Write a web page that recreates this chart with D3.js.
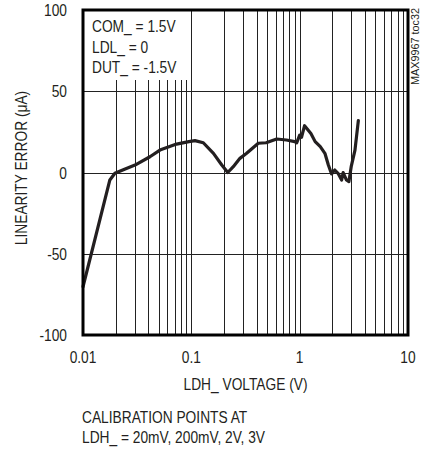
<!DOCTYPE html>
<html><head><meta charset="utf-8">
<script src="https://cdn.jsdelivr.net/npm/d3@7"></script>
<style>
body{margin:0;background:#fff;}
text{font-family:"Liberation Sans",Arial,sans-serif;fill:#231f20;}
</style></head><body>
<svg id="c" width="421" height="453"></svg>
<script>
const voltage = [0.01,0.0177,0.0197,0.0245,0.0302,0.0415,0.0513,0.0731,0.095,0.108,0.129,0.16,0.191,0.217,0.244,0.281,0.324,0.415,0.49,0.614,0.755,0.9,0.94,1.0,1.04,1.11,1.27,1.39,1.55,1.71,1.84,1.97,2.11,2.26,2.44,2.52,2.7,2.85,2.99,3.24,3.48,3.68];
const errorUA = [-70.3,-4.6,-0.5,2.2,4.6,9.7,13.8,17.5,19.0,19.6,18.3,11.8,4.6,0,3.6,8.7,11.8,18,18.3,20.6,20,19,18.3,23,21.7,28.8,24,19,15.9,11.8,4.6,-0.9,1.5,-0.5,-4.6,-0.1,-4.6,-5.6,3.6,13.8,31.9];
const xTicks = [0.01,0.1,1,10];
const xTickLabels = ["0.01","0.1","1","10"];
const yTicks = [-100,-50,0,50,100];
const yTickLabels = ["-100","-50","0","50","100"];
const legendLines = ["COM_ = 1.5V","LDL_ = 0","DUT_ = -1.5V"];
const xTitle = "LDH_ VOLTAGE (V)";
const yTitle = "LINEARITY ERROR (\u03bcA)";
const noteLines = ["CALIBRATION POINTS AT","LDH_ = 20mV, 200mV, 2V, 3V"];
const sideNote = "MAX9967 toc32";

const L=83,T=10,R=408,B=335, SX=0.86;
const svg=d3.select("#c");
const x=d3.scaleLog().domain([0.01,10]).range([L,R]);
const y=d3.scaleLinear().domain([-100,100]).range([B,T]);

function label(px,py,str,opts={}){
  const g=svg.append("g").attr("transform",`translate(${px},${py})${opts.rot?` rotate(${opts.rot})`:""} scale(${opts.sx||SX},1)`);
  return g.append("text").attr("x",0).attr("y",0).attr("font-size",opts.fs||16)
    .attr("text-anchor",opts.anchor||"start").text(str);
}

const grid=[];
for(let d=0.01; d<10; d*=10){for(let k=2;k<=9;k++) grid.push(d*k);}
svg.append("g").selectAll("line").data(grid.concat([0.1,1])).join("line")
 .attr("x1",d=>Math.round(x(d))+0.5).attr("x2",d=>Math.round(x(d))+0.5)
 .attr("y1",T).attr("y2",B).attr("stroke","#222").attr("stroke-width",1);
svg.append("g").selectAll("line").data([-50,0,50]).join("line")
 .attr("x1",L).attr("x2",R).attr("y1",d=>Math.round(y(d))+0.5).attr("y2",d=>Math.round(y(d))+0.5)
 .attr("stroke","#222").attr("stroke-width",1);

svg.append("rect").attr("x",L).attr("y",T).attr("width",107).attr("height",70).attr("fill","#fff");
legendLines.forEach((d,i)=>label(92,32+i*20.5,d));

const line=d3.line().x((d,i)=>x(voltage[i])).y(d=>y(d)).curve(d3.curveLinear);
svg.append("path").attr("d",line(errorUA)).attr("fill","none")
 .attr("stroke","#231f20").attr("stroke-width",3.2).attr("stroke-linejoin","round").attr("stroke-linecap","round");

svg.append("rect").attr("x",L).attr("y",T).attr("width",R-L).attr("height",B-T)
 .attr("fill","none").attr("stroke","#000").attr("stroke-width",3);

yTicks.forEach((d,i)=>label(67,y(d)+6,yTickLabels[i],{anchor:"end"}));
xTicks.forEach((d,i)=>label(x(d),363,xTickLabels[i],{anchor:"middle"}));
label((L+R)/2,390,xTitle,{anchor:"middle"});
label(27,168,yTitle,{anchor:"middle",rot:-90});
noteLines.forEach((d,i)=>label(82,423+i*20,d));
label(419,8,sideNote,{anchor:"end",rot:-90,fs:11,sx:1}).attr("textLength",77).attr("lengthAdjust","spacingAndGlyphs");
</script></body></html>
